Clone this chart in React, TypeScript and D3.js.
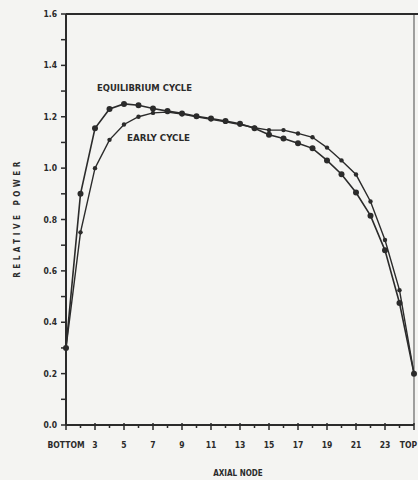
import React from "react";
import * as d3 from "d3";

// axial nodes 1 (bottom) .. 25 (top)
const nodes = d3.range(1, 26);
const equilibrium = [
  0.3, 0.9, 1.155, 1.23, 1.25, 1.245, 1.232, 1.222, 1.213, 1.202, 1.193, 1.183, 1.173,
  1.155, 1.13, 1.115, 1.097, 1.077, 1.03, 0.976, 0.905, 0.815, 0.68, 0.475, 0.2,
];
const early = [
  0.3, 0.75, 1.0, 1.11, 1.17, 1.2, 1.215, 1.218, 1.21, 1.2, 1.19, 1.18, 1.17,
  1.157, 1.148, 1.148, 1.135, 1.12, 1.08, 1.03, 0.975, 0.87, 0.72, 0.525, 0.2,
];
const xTickLabels = ["BOTTOM", "3", "5", "7", "9", "11", "13", "15", "17", "19", "21", "23", "TOP"];
const yTicks = [0, 0.2, 0.4, 0.6, 0.8, 1.0, 1.2, 1.4, 1.6];

const W = 418;
const H = 480;
const ink = "#2b2b2b";
const font = "'DejaVu Sans Condensed', 'DejaVu Sans', sans-serif";

const App = () => {
  const x = d3.scaleLinear().domain([1, 25]).range([66, 414]);
  const y = d3.scaleLinear().domain([0, 1.6]).range([425, 14]);

  const line = d3
    .line<number>()
    .x((_, i) => x(nodes[i]))
    .y((d) => y(d));

  const oddNodes = nodes.filter((n) => n % 2 === 1);
  const minorY = d3.range(0, 1.61, 0.1);

  return (
    <svg
      width={W}
      height={H}
      style={{ position: "absolute", left: 0, top: 0, display: "block" }}
      fontFamily={font}
    >
      <rect width={W} height={H} fill="#f4f4f2" />

      {/* frame */}
      <line x1={x(1)} x2={W} y1={y(1.6)} y2={y(1.6)} stroke={ink} strokeWidth={2} />
      <line x1={x(1)} x2={x(1)} y1={y(1.6)} y2={y(0)} stroke={ink} strokeWidth={2} />
      <line x1={x(1)} x2={x(25)} y1={y(0)} y2={y(0)} stroke={ink} strokeWidth={2} />
      <line x1={x(25)} x2={x(25)} y1={y(1.6)} y2={y(0)} stroke={ink} strokeWidth={1.2} opacity={0.7} />

      {/* y ticks */}
      {minorY.map((v) => (
        <line key={"yt" + v} x1={x(1) - 5} x2={x(1)} y1={y(v)} y2={y(v)} stroke={ink} strokeWidth={1.5} />
      ))}
      {yTicks.map((v) => (
        <text
          key={"yl" + v}
          x={57}
          y={y(v) + 3}
          fontSize={8.5}
          fontWeight="bold"
          textAnchor="end"
          fill={ink}
        >
          {v.toFixed(1)}
        </text>
      ))}

      {/* x ticks */}
      {nodes.map((n) => (
        <line
          key={"xt" + n}
          x1={x(n)}
          x2={x(n)}
          y1={y(0) - (n % 2 ? 2 : 1)}
          y2={y(0) + (n % 2 ? 5 : 3)}
          stroke={ink}
          strokeWidth={1.5}
        />
      ))}
      {oddNodes.map((n, i) => {
        const last = i === oddNodes.length - 1;
        return (
          <text
            key={"xl" + n}
            x={last ? W - 1 : x(n)}
            y={448}
            fontSize={8.5}
            fontWeight="bold"
            textAnchor={last ? "end" : "middle"}
            fill={ink}
          >
            {xTickLabels[i]}
          </text>
        );
      })}

      {/* axis titles */}
      <text
        x={0}
        y={0}
        transform={`translate(20,218) rotate(-90)`}
        fontSize={8}
        fontWeight="bold"
        textAnchor="middle"
        letterSpacing={3.5}
        fill={ink}
      >
        RELATIVE POWER
      </text>
      <text x={238} y={476} fontSize={8} fontWeight="bold" textAnchor="middle" fill={ink}>
        AXIAL NODE
      </text>

      {/* curves */}
      <path d={line(early) ?? ""} fill="none" stroke={ink} strokeWidth={1.4} />
      <path d={line(equilibrium) ?? ""} fill="none" stroke={ink} strokeWidth={1.6} />
      {early.map((v, i) => (
        <circle key={"e" + i} cx={x(nodes[i])} cy={y(v)} r={2.2} fill={ink} />
      ))}
      {equilibrium.map((v, i) => (
        <circle key={"q" + i} cx={x(nodes[i])} cy={y(v)} r={3} fill={ink} />
      ))}

      {/* curve labels */}
      <text x={97} y={91} fontSize={8} fontWeight="bold" fill={ink} textLength={95} lengthAdjust="spacingAndGlyphs">
        EQUILIBRIUM CYCLE
      </text>
      <text x={127} y={141} fontSize={8} fontWeight="bold" fill={ink} textLength={63} lengthAdjust="spacingAndGlyphs">
        EARLY CYCLE
      </text>
    </svg>
  );
};

export default App;
